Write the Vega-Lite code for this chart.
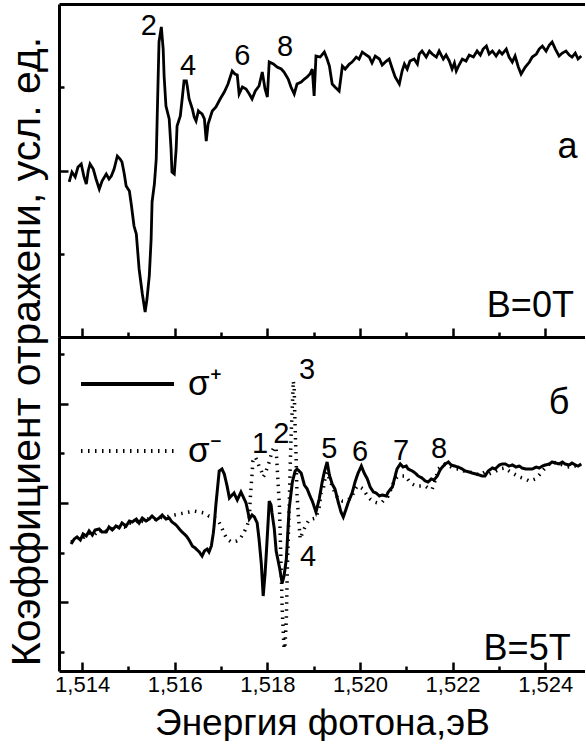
{
  "$schema": "https://vega.github.io/schema/vega-lite/v6.json",
  "padding": {"left": 6, "top": 4, "right": 0, "bottom": 0},
  "bounds": "flush",
  "spacing": 0,
  "config": {
    "view": {"stroke": null},
    "font": "Liberation Sans",
    "axis": {"grid": false, "domainColor": "black", "domainWidth": 3, "tickColor": "black", "tickWidth": 2.5, "labelColor": "black", "titleColor": "black", "labelFont": "Liberation Sans", "titleFont": "Liberation Sans", "titleFontWeight": "normal"},
    "text": {"font": "Liberation Sans", "color": "black"}
  },
  "title": {"text": "Коэффициент отражени, усл. ед.", "orient": "left", "anchor": "middle", "fontSize": 41, "fontWeight": "normal", "font": "Liberation Sans", "color": "black", "offset": 6, "dx": 21},
  "datasets": {
    "top": [
      {"E":1.51372,"R":1.862},{"E":1.51378,"R":1.982},{"E":1.51385,"R":1.922},{"E":1.51391,"R":2.042},{"E":1.51398,"R":2.078},
      {"E":1.51404,"R":1.922},{"E":1.51409,"R":1.838},{"E":1.51413,"R":1.994},{"E":1.51417,"R":2.078},{"E":1.51424,"R":2.018},
      {"E":1.5143,"R":1.898},{"E":1.51437,"R":1.778},{"E":1.51443,"R":1.874},{"E":1.51452,"R":1.958},{"E":1.51458,"R":1.898},
      {"E":1.51463,"R":1.934},{"E":1.51469,"R":2.018},{"E":1.51476,"R":2.174},{"E":1.51482,"R":2.138},{"E":1.51486,"R":2.102},
      {"E":1.51491,"R":1.958},{"E":1.51495,"R":1.814},{"E":1.51502,"R":1.754},{"E":1.51506,"R":1.598},{"E":1.51512,"R":1.333},
      {"E":1.51517,"R":1.237},{"E":1.51523,"R":0.817},{"E":1.5153,"R":0.517},{"E":1.51536,"R":0.3},{"E":1.5154,"R":0.456},
      {"E":1.51545,"R":0.733},{"E":1.51549,"R":1.177},{"E":1.51551,"R":1.622},{"E":1.51556,"R":1.838},{"E":1.5156,"R":2.138},
      {"E":1.51562,"R":2.619},{"E":1.51566,"R":3.544},{"E":1.51571,"R":3.724},{"E":1.51575,"R":3.459},{"E":1.51577,"R":3.135},
      {"E":1.51581,"R":2.775},{"E":1.51588,"R":2.619},{"E":1.51592,"R":2.258},{"E":1.51594,"R":1.982},{"E":1.51599,"R":1.958},
      {"E":1.51603,"R":2.258},{"E":1.51605,"R":2.535},{"E":1.51612,"R":2.655},{"E":1.51616,"R":2.859},{"E":1.5162,"R":3.075},
      {"E":1.51625,"R":3.075},{"E":1.51627,"R":3.015},{"E":1.51631,"R":2.859},{"E":1.51638,"R":2.739},{"E":1.51642,"R":2.643},
      {"E":1.51646,"R":2.595},{"E":1.51651,"R":2.715},{"E":1.51653,"R":2.703},{"E":1.51659,"R":2.679},{"E":1.51664,"R":2.619},
      {"E":1.51668,"R":2.354},{"E":1.51672,"R":2.559},{"E":1.51681,"R":2.715},{"E":1.51689,"R":2.763},{"E":1.51698,"R":2.859},
      {"E":1.51707,"R":2.943},{"E":1.51715,"R":3.039},{"E":1.51724,"R":3.195},{"E":1.5173,"R":3.159},{"E":1.51735,"R":3.147},
      {"E":1.51739,"R":2.919},{"E":1.51746,"R":3.003},{"E":1.51754,"R":2.979},{"E":1.51761,"R":2.919},{"E":1.51767,"R":2.859},
      {"E":1.51774,"R":2.955},{"E":1.51782,"R":3.015},{"E":1.51789,"R":3.183},{"E":1.51795,"R":2.979},{"E":1.518,"R":2.883},
      {"E":1.51804,"R":3.303},{"E":1.51813,"R":3.279},{"E":1.51821,"R":3.243},{"E":1.5183,"R":3.219},{"E":1.51836,"R":3.183},
      {"E":1.51845,"R":3.099},{"E":1.51851,"R":3.003},{"E":1.51858,"R":2.919},{"E":1.51864,"R":3.039},{"E":1.51873,"R":3.063},
      {"E":1.5188,"R":3.099},{"E":1.51886,"R":3.123},{"E":1.51892,"R":3.159},{"E":1.51897,"R":3.219},{"E":1.51901,"R":2.895},
      {"E":1.51905,"R":3.375},{"E":1.51914,"R":3.363},{"E":1.51923,"R":3.423},{"E":1.51929,"R":3.339},{"E":1.51934,"R":3.255},
      {"E":1.5194,"R":3.039},{"E":1.51946,"R":3.003},{"E":1.51955,"R":2.955},{"E":1.51962,"R":3.255},{"E":1.51968,"R":3.219},
      {"E":1.51977,"R":3.279},{"E":1.51983,"R":3.303},{"E":1.51992,"R":3.363},{"E":1.51998,"R":3.339},{"E":1.52005,"R":3.423},
      {"E":1.52011,"R":3.399},{"E":1.5202,"R":3.363},{"E":1.52026,"R":3.291},{"E":1.52033,"R":3.375},{"E":1.52042,"R":3.339},
      {"E":1.52048,"R":3.267},{"E":1.52057,"R":3.315},{"E":1.52063,"R":3.339},{"E":1.5207,"R":3.219},{"E":1.52076,"R":3.123},
      {"E":1.52085,"R":3.039},{"E":1.52091,"R":3.195},{"E":1.52096,"R":3.279},{"E":1.52102,"R":3.219},{"E":1.52108,"R":3.315},
      {"E":1.52117,"R":3.339},{"E":1.52124,"R":3.279},{"E":1.52128,"R":3.399},{"E":1.52134,"R":3.435},{"E":1.52143,"R":3.363},
      {"E":1.5215,"R":3.435},{"E":1.52156,"R":3.399},{"E":1.52165,"R":3.363},{"E":1.52171,"R":3.435},{"E":1.5218,"R":3.339},
      {"E":1.52186,"R":3.387},{"E":1.52193,"R":3.315},{"E":1.52199,"R":3.219},{"E":1.52204,"R":3.291},{"E":1.52208,"R":3.195},
      {"E":1.52214,"R":3.267},{"E":1.52221,"R":3.339},{"E":1.52229,"R":3.315},{"E":1.52236,"R":3.387},{"E":1.52245,"R":3.363},
      {"E":1.52253,"R":3.435},{"E":1.5226,"R":3.387},{"E":1.52266,"R":3.459},{"E":1.52273,"R":3.495},{"E":1.52279,"R":3.399},
      {"E":1.52286,"R":3.435},{"E":1.52294,"R":3.375},{"E":1.52301,"R":3.435},{"E":1.52307,"R":3.399},{"E":1.52316,"R":3.459},
      {"E":1.52322,"R":3.363},{"E":1.52329,"R":3.303},{"E":1.52335,"R":3.375},{"E":1.52342,"R":3.243},{"E":1.52348,"R":3.159},
      {"E":1.52357,"R":3.243},{"E":1.52366,"R":3.303},{"E":1.52372,"R":3.363},{"E":1.52381,"R":3.399},{"E":1.52387,"R":3.459},
      {"E":1.52394,"R":3.495},{"E":1.52402,"R":3.435},{"E":1.52409,"R":3.508},{"E":1.52415,"R":3.544},{"E":1.52422,"R":3.459},
      {"E":1.5243,"R":3.375},{"E":1.52437,"R":3.411},{"E":1.52445,"R":3.435},{"E":1.52452,"R":3.387},{"E":1.52458,"R":3.363},
      {"E":1.52465,"R":3.411},{"E":1.52471,"R":3.339},{"E":1.52478,"R":3.375}
    ],
    "plus": [
      {"E":1.51376,"R":2.173},{"E":1.51383,"R":2.274},{"E":1.51389,"R":2.314},{"E":1.51396,"R":2.254},{"E":1.51402,"R":2.374},
      {"E":1.51409,"R":2.334},{"E":1.51415,"R":2.435},{"E":1.51422,"R":2.354},{"E":1.51428,"R":2.455},{"E":1.51437,"R":2.475},
      {"E":1.51443,"R":2.414},{"E":1.51452,"R":2.414},{"E":1.51458,"R":2.515},{"E":1.51465,"R":2.455},{"E":1.51473,"R":2.535},
      {"E":1.5148,"R":2.495},{"E":1.51486,"R":2.596},{"E":1.51495,"R":2.535},{"E":1.51502,"R":2.636},{"E":1.51508,"R":2.616},
      {"E":1.51517,"R":2.676},{"E":1.51523,"R":2.596},{"E":1.5153,"R":2.696},{"E":1.51538,"R":2.636},{"E":1.51545,"R":2.676},
      {"E":1.51551,"R":2.736},{"E":1.5156,"R":2.656},{"E":1.51566,"R":2.696},{"E":1.51573,"R":2.757},{"E":1.51581,"R":2.676},
      {"E":1.51588,"R":2.696},{"E":1.51594,"R":2.616},{"E":1.51603,"R":2.555},{"E":1.5161,"R":2.475},{"E":1.51616,"R":2.414},
      {"E":1.51625,"R":2.334},{"E":1.51631,"R":2.254},{"E":1.51638,"R":2.133},{"E":1.51644,"R":2.093},{"E":1.51653,"R":2.012},
      {"E":1.51659,"R":1.932},{"E":1.51664,"R":2.032},{"E":1.5167,"R":2.072},{"E":1.51674,"R":2.012},{"E":1.51679,"R":2.133},
      {"E":1.51683,"R":2.374},{"E":1.51685,"R":2.535},{"E":1.51689,"R":2.978},{"E":1.51696,"R":3.642},{"E":1.51702,"R":3.682},
      {"E":1.51707,"R":3.581},{"E":1.51713,"R":3.34},{"E":1.51718,"R":3.099},{"E":1.51722,"R":3.139},{"E":1.51728,"R":3.199},
      {"E":1.51735,"R":3.058},{"E":1.51739,"R":3.139},{"E":1.51743,"R":3.219},{"E":1.5175,"R":3.078},{"E":1.51754,"R":2.998},
      {"E":1.51759,"R":2.777},{"E":1.51761,"R":2.676},{"E":1.51767,"R":2.757},{"E":1.51772,"R":2.716},{"E":1.51778,"R":2.596},
      {"E":1.51782,"R":2.274},{"E":1.51787,"R":1.771},{"E":1.51791,"R":1.127},{"E":1.51795,"R":1.569},{"E":1.51797,"R":1.871},
      {"E":1.51802,"R":2.676},{"E":1.51804,"R":3.038},{"E":1.51808,"R":2.958},{"E":1.5181,"R":2.797},{"E":1.51815,"R":2.475},
      {"E":1.51819,"R":2.032},{"E":1.51826,"R":1.71},{"E":1.51832,"R":1.388},{"E":1.51836,"R":1.529},{"E":1.51841,"R":1.871},
      {"E":1.51847,"R":2.877},{"E":1.51854,"R":3.421},{"E":1.5186,"R":3.642},{"E":1.51864,"R":3.682},{"E":1.51873,"R":3.602},
      {"E":1.5188,"R":3.36},{"E":1.51886,"R":3.28},{"E":1.51892,"R":3.139},{"E":1.51897,"R":3.038},{"E":1.51905,"R":2.817},
      {"E":1.51912,"R":3.078},{"E":1.51918,"R":3.4},{"E":1.51923,"R":3.622},{"E":1.51929,"R":3.823},{"E":1.51934,"R":3.561},
      {"E":1.5194,"R":3.38},{"E":1.51946,"R":3.28},{"E":1.51953,"R":3.018},{"E":1.51959,"R":2.817},{"E":1.51964,"R":2.716},
      {"E":1.5197,"R":2.877},{"E":1.51975,"R":3.018},{"E":1.51983,"R":3.199},{"E":1.5199,"R":3.441},{"E":1.51996,"R":3.602},
      {"E":1.52003,"R":3.742},{"E":1.52009,"R":3.602},{"E":1.52016,"R":3.481},{"E":1.52022,"R":3.32},{"E":1.52029,"R":3.219},
      {"E":1.52035,"R":3.199},{"E":1.52042,"R":3.139},{"E":1.52048,"R":3.159},{"E":1.52057,"R":3.139},{"E":1.52061,"R":3.219},
      {"E":1.5207,"R":3.32},{"E":1.52076,"R":3.541},{"E":1.5208,"R":3.682},{"E":1.52087,"R":3.783},{"E":1.52093,"R":3.722},
      {"E":1.521,"R":3.742},{"E":1.52104,"R":3.682},{"E":1.52113,"R":3.642},{"E":1.52119,"R":3.602},{"E":1.52126,"R":3.541},
      {"E":1.52134,"R":3.501},{"E":1.52141,"R":3.441},{"E":1.52147,"R":3.421},{"E":1.52154,"R":3.481},{"E":1.5216,"R":3.461},
      {"E":1.52167,"R":3.541},{"E":1.52173,"R":3.662},{"E":1.52178,"R":3.722},{"E":1.52184,"R":3.783},{"E":1.52191,"R":3.823},
      {"E":1.52197,"R":3.763},{"E":1.52204,"R":3.742},{"E":1.52212,"R":3.722},{"E":1.52221,"R":3.682},{"E":1.52227,"R":3.642},
      {"E":1.52236,"R":3.622},{"E":1.52242,"R":3.602},{"E":1.52251,"R":3.581},{"E":1.52258,"R":3.561},{"E":1.52264,"R":3.541},
      {"E":1.5227,"R":3.541},{"E":1.52277,"R":3.642},{"E":1.52286,"R":3.702},{"E":1.52292,"R":3.682},{"E":1.52301,"R":3.763},
      {"E":1.52307,"R":3.783},{"E":1.52314,"R":3.783},{"E":1.52322,"R":3.742},{"E":1.52329,"R":3.763},{"E":1.52337,"R":3.722},
      {"E":1.52344,"R":3.742},{"E":1.5235,"R":3.702},{"E":1.52359,"R":3.682},{"E":1.52366,"R":3.682},{"E":1.52372,"R":3.682},
      {"E":1.52381,"R":3.722},{"E":1.52387,"R":3.702},{"E":1.52394,"R":3.742},{"E":1.524,"R":3.763},{"E":1.52409,"R":3.783},
      {"E":1.52415,"R":3.823},{"E":1.52422,"R":3.803},{"E":1.5243,"R":3.783},{"E":1.52437,"R":3.823},{"E":1.52443,"R":3.783},
      {"E":1.52452,"R":3.763},{"E":1.52458,"R":3.803},{"E":1.52465,"R":3.763},{"E":1.52471,"R":3.742},{"E":1.52478,"R":3.783}
    ],
    "minus": [
      {"E":1.51376,"R":2.213},{"E":1.51385,"R":2.254},{"E":1.51394,"R":2.334},{"E":1.51404,"R":2.314},{"E":1.51415,"R":2.394},
      {"E":1.51426,"R":2.354},{"E":1.51437,"R":2.455},{"E":1.51448,"R":2.394},{"E":1.51458,"R":2.495},{"E":1.51469,"R":2.475},
      {"E":1.5148,"R":2.535},{"E":1.51491,"R":2.515},{"E":1.51502,"R":2.596},{"E":1.51512,"R":2.575},{"E":1.51523,"R":2.656},
      {"E":1.51534,"R":2.616},{"E":1.51545,"R":2.696},{"E":1.51556,"R":2.676},{"E":1.51566,"R":2.716},{"E":1.51577,"R":2.696},
      {"E":1.51588,"R":2.736},{"E":1.51599,"R":2.757},{"E":1.5161,"R":2.777},{"E":1.5162,"R":2.797},{"E":1.51631,"R":2.817},
      {"E":1.51642,"R":2.837},{"E":1.51653,"R":2.817},{"E":1.51664,"R":2.797},{"E":1.51674,"R":2.736},{"E":1.51683,"R":2.716},
      {"E":1.51692,"R":2.676},{"E":1.517,"R":2.535},{"E":1.51707,"R":2.374},{"E":1.51713,"R":2.274},{"E":1.51722,"R":2.213},
      {"E":1.51733,"R":2.233},{"E":1.51741,"R":2.274},{"E":1.5175,"R":2.414},{"E":1.51756,"R":2.535},{"E":1.51761,"R":2.676},
      {"E":1.51763,"R":3.078},{"E":1.51765,"R":3.34},{"E":1.51769,"R":3.843},{"E":1.51774,"R":3.924},{"E":1.51778,"R":3.843},
      {"E":1.51782,"R":3.742},{"E":1.51787,"R":3.642},{"E":1.51791,"R":3.521},{"E":1.51795,"R":3.581},{"E":1.518,"R":3.722},
      {"E":1.51804,"R":3.823},{"E":1.5181,"R":4.044},{"E":1.51815,"R":4.125},{"E":1.51819,"R":4.085},{"E":1.51821,"R":3.742},
      {"E":1.51826,"R":2.938},{"E":1.5183,"R":1.61},{"E":1.51832,"R":0.865},{"E":1.51836,"R":0.06},{"E":1.51838,"R":0.101},
      {"E":1.51841,"R":0.664},{"E":1.51843,"R":1.61},{"E":1.51847,"R":2.877},{"E":1.51849,"R":3.622},{"E":1.51851,"R":4.286},
      {"E":1.51854,"R":4.95},{"E":1.51856,"R":5.453},{"E":1.51858,"R":5.292},{"E":1.5186,"R":4.487},{"E":1.51862,"R":3.944},
      {"E":1.51864,"R":3.179},{"E":1.51867,"R":2.736},{"E":1.51871,"R":2.274},{"E":1.51875,"R":2.374},{"E":1.51882,"R":2.535},
      {"E":1.5189,"R":2.656},{"E":1.51897,"R":2.676},{"E":1.51905,"R":2.696},{"E":1.51912,"R":2.918},{"E":1.51916,"R":3.199},
      {"E":1.51921,"R":3.3},{"E":1.51925,"R":3.521},{"E":1.51929,"R":3.622},{"E":1.51934,"R":3.481},{"E":1.5194,"R":3.34},
      {"E":1.51946,"R":3.199},{"E":1.51953,"R":3.078},{"E":1.51962,"R":3.038},{"E":1.51968,"R":3.038},{"E":1.51977,"R":3.078},
      {"E":1.51983,"R":3.139},{"E":1.5199,"R":3.28},{"E":1.51994,"R":3.34},{"E":1.52,"R":3.32},{"E":1.52007,"R":3.28},
      {"E":1.52016,"R":3.139},{"E":1.52022,"R":3.078},{"E":1.52031,"R":3.018},{"E":1.52039,"R":2.998},{"E":1.52048,"R":3.018},
      {"E":1.52054,"R":3.078},{"E":1.52061,"R":3.139},{"E":1.52067,"R":3.28},{"E":1.52074,"R":3.441},{"E":1.5208,"R":3.521},
      {"E":1.52089,"R":3.541},{"E":1.52098,"R":3.541},{"E":1.52106,"R":3.441},{"E":1.52113,"R":3.38},{"E":1.52121,"R":3.34},
      {"E":1.52132,"R":3.34},{"E":1.52141,"R":3.34},{"E":1.5215,"R":3.28},{"E":1.52156,"R":3.28},{"E":1.52162,"R":3.441},
      {"E":1.52169,"R":3.682},{"E":1.52178,"R":3.742},{"E":1.52184,"R":3.783},{"E":1.52193,"R":3.742},{"E":1.52204,"R":3.682},
      {"E":1.52214,"R":3.682},{"E":1.52225,"R":3.642},{"E":1.52236,"R":3.622},{"E":1.52247,"R":3.602},{"E":1.52258,"R":3.561},
      {"E":1.5227,"R":3.622},{"E":1.52279,"R":3.581},{"E":1.5229,"R":3.622},{"E":1.52301,"R":3.682},{"E":1.52312,"R":3.702},
      {"E":1.52322,"R":3.642},{"E":1.52333,"R":3.581},{"E":1.52344,"R":3.521},{"E":1.52357,"R":3.481},{"E":1.52366,"R":3.441},
      {"E":1.52378,"R":3.481},{"E":1.52387,"R":3.561},{"E":1.52398,"R":3.682},{"E":1.52409,"R":3.783},{"E":1.52415,"R":3.823},
      {"E":1.52426,"R":3.803},{"E":1.52437,"R":3.763},{"E":1.52448,"R":3.722},{"E":1.52458,"R":3.742},{"E":1.52471,"R":3.742},
      {"E":1.52478,"R":3.763}
    ],
    "topText": [
      {"E":1.51544,"R":3.73,"t":"2","kind":"num"},
      {"E":1.51629,"R":3.255,"t":"4","kind":"num"},
      {"E":1.51746,"R":3.375,"t":"6","kind":"num"},
      {"E":1.51838,"R":3.483,"t":"8","kind":"num"},
      {"E":1.52448,"R":2.282,"t":"а","kind":"panel"},
      {"E":1.52368,"R":0.372,"t":"B=0T","kind":"panel"}
    ],
    "bottomText": [
      {"E":1.51784,"R":4.185,"t":"1","kind":"num"},
      {"E":1.5183,"R":4.386,"t":"2","kind":"num"},
      {"E":1.51886,"R":5.674,"t":"3","kind":"num"},
      {"E":1.51888,"R":1.911,"t":"4","kind":"num"},
      {"E":1.51934,"R":4.085,"t":"5","kind":"num"},
      {"E":1.52,"R":4.024,"t":"6","kind":"num"},
      {"E":1.52089,"R":4.044,"t":"7","kind":"num"},
      {"E":1.52171,"R":4.085,"t":"8","kind":"num"},
      {"E":1.5243,"R":5.01,"t":"б","kind":"panel"},
      {"E":1.52361,"R":0.06,"t":"B=5T","kind":"panel"}
    ]
  },
  "vconcat": [
    {
      "width": 526,
      "height": 333,
      "layer": [
        {
          "data": {"name": "top"},
          "mark": {"type": "line", "color": "black", "strokeWidth": 2.8, "clip": true},
          "encoding": {
            "x": {"field": "E", "type": "quantitative",
              "scale": {"domain": [1.5135, 1.52486], "nice": false, "zero": false},
              "axis": {"orient": "bottom", "values": [1.514,1.515,1.516,1.517,1.518,1.519,1.52,1.521,1.522,1.523,1.524], "labels": false, "title": null,
                "tickSize": {"condition": {"test": "round(datum.value*1000) % 2 == 0", "value": -9}, "value": -5}}},
            "y": {"field": "R", "type": "quantitative",
              "scale": {"domain": [0, 4], "nice": false, "zero": false},
              "axis": {"values": [1, 2, 3], "labels": false, "title": null,
                "tickSize": {"condition": {"test": "datum.value == 2", "value": -9}, "value": -5}}}
          }
        },
        {
          "data": {"name": "topText"},
          "mark": {"type": "text", "align": "center", "baseline": "middle"},
          "encoding": {
            "x": {"field": "E", "type": "quantitative", "axis": {"orient": "top", "ticks": false, "labels": false, "title": null, "domain": true}},
            "y": {"field": "R", "type": "quantitative"},
            "text": {"field": "t"},
            "size": {"field": "kind", "type": "nominal", "scale": {"domain": ["num", "panel"], "range": [29, 36]}, "legend": null}
          }
        }
      ],
      "resolve": {"axis": {"x": "independent"}}
    },
    {
      "width": 526,
      "height": 334,
      "layer": [
        {
          "data": {"name": "minus"},
          "mark": {"type": "line", "color": "black", "strokeWidth": 3.5, "clip": true},
          "encoding": {
            "x": {"field": "E", "type": "quantitative",
              "scale": {"domain": [1.5135, 1.52486], "nice": false, "zero": false},
              "axis": {"orient": "bottom", "values": [1.514,1.515,1.516,1.517,1.518,1.519,1.52,1.521,1.522,1.523,1.524], "title": "Энергия фотона,эВ",
                "titleFontSize": 37, "titlePadding": 10, "labelFontSize": 22, "labelPadding": 12,
                "labelExpr": "round(datum.value*1000) % 2 == 0 ? replace(format(datum.value, '.3f'), '.', ',') : ''",
                "tickSize": {"condition": {"test": "round(datum.value*1000) % 2 == 0", "value": -9}, "value": -5}}},
            "y": {"field": "R", "type": "quantitative",
              "scale": {"domain": [-0.382, 6.338], "nice": false, "zero": false},
              "axis": {"values": [0, 1, 2, 3, 4, 5, 6], "labels": false, "title": null,
                "tickSize": {"condition": {"test": "datum.value == 1 || datum.value == 3 || datum.value == 5", "value": -9}, "value": -5}}},
            "strokeDash": {"datum": "σ⁻", "type": "nominal",
              "scale": {"domain": ["σ⁺", "σ⁻"], "range": [[1, 0], [1.5, 5.5]]},
              "legend": {"title": null, "orient": "none", "legendX": 20, "legendY": 331.5, "padding": 0,
                "symbolType": "stroke", "symbolSize": 8649, "symbolStrokeWidth": 4, "symbolStrokeColor": "black",
                "rowPadding": -31, "labelFontSize": 35, "labelFont": "Liberation Sans", "labelColor": "black", "labelOffset": 12}}
          }
        },
        {
          "data": {"name": "plus"},
          "mark": {"type": "line", "color": "black", "strokeWidth": 3, "clip": true},
          "encoding": {
            "x": {"field": "E", "type": "quantitative"},
            "y": {"field": "R", "type": "quantitative"},
            "strokeDash": {"datum": "σ⁺", "type": "nominal"}
          }
        },
        {
          "data": {"name": "bottomText"},
          "mark": {"type": "text", "align": "center", "baseline": "middle"},
          "encoding": {
            "x": {"field": "E", "type": "quantitative"},
            "y": {"field": "R", "type": "quantitative"},
            "text": {"field": "t"},
            "size": {"field": "kind", "type": "nominal", "scale": {"domain": ["num", "panel"], "range": [29, 36]}, "legend": null}
          }
        }
      ]
    }
  ]
}
